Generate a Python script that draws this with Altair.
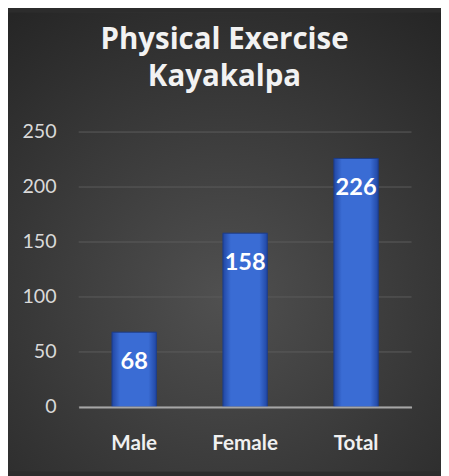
import altair as alt
import pandas as pd

categories = ["Male", "Female", "Total"]
values = [68, 158, 226]
title_lines = ["Physical Exercise", "Kayakalpa"]
y_ticks = [0, 50, 100, 150, 200, 250]

df = pd.DataFrame({"category": categories, "value": values})
grid_df = pd.DataFrame({"tick": y_ticks})

FONT = "Lato"
W, H = 339, 280
PAD = {"left": 72, "top": 122, "right": 30, "bottom": 66}

bg = alt.Chart(alt.Data(values=[{"k": 1}])).mark_rect(
    fill=alt.Gradient(
        gradient="radial",
        x1=0.5, y1=0.62, r1=0.0,
        x2=0.5, y2=0.62, r2=0.8,
        stops=[alt.GradientStop(offset=0, color="#505050"),
               alt.GradientStop(offset=1, color="#242424")],
    )
).encode(
    x=alt.value(-PAD["left"]), x2=alt.value(W + PAD["right"]),
    y=alt.value(-PAD["top"]), y2=alt.value(H + PAD["bottom"]),
)

y_scale = alt.Scale(domain=[0, 250], nice=False)

grid = alt.Chart(grid_df).mark_rule(color="#5c5c5c", strokeWidth=1).encode(
    y=alt.Y("tick:Q", scale=y_scale)
)

x_enc = alt.X("category:N", sort=categories, title=None,
              scale=alt.Scale(paddingInner=0.6, paddingOuter=0.3),
              axis=alt.Axis(labelAngle=0, ticks=False, domain=True,
                            domainColor="#a6a6a6", domainWidth=2,
                            labelFont=FONT, labelFontSize=21, labelFontWeight="bold",
                            labelColor="#f0f0f0", labelPadding=26, grid=False,
                            zindex=1))
y_enc = alt.Y("value:Q", title=None, scale=y_scale,
              axis=alt.Axis(values=y_ticks, ticks=False, domain=False,
                            labelFont=FONT, labelFontSize=20, labelColor="#d9d9d9",
                            labelPadding=23, grid=False, zindex=1))

bars = alt.Chart(df).mark_bar(
    fill=alt.Gradient(
        gradient="linear", x1=0, x2=1, y1=0, y2=0,
        stops=[alt.GradientStop(offset=0, color="#2147a3"),
               alt.GradientStop(offset=0.18, color="#3a6cd4"),
               alt.GradientStop(offset=0.82, color="#3a6cd4"),
               alt.GradientStop(offset=1, color="#2147a3")],
    ),
    stroke="#1c3c8a", strokeWidth=1,
).encode(x=x_enc, y=y_enc)

labels = alt.Chart(df).mark_text(
    font=FONT, fontSize=24, fontWeight="bold", color="white",
    baseline="middle", dy=30,
).encode(x=alt.X("category:N", sort=categories), y=alt.Y("value:Q"),
         text=alt.Text("value:Q"))

chart = alt.layer(bg, grid, bars, labels).properties(
    width=W, height=H,
    title=alt.TitleParams(text=title_lines, font="Open Sans", fontSize=30,
                          fontWeight="bold", color="#f2f2f2", anchor="middle",
                          frame="group", dx=-21, offset=-81, lineHeight=38, zindex=1),
    autosize=alt.AutoSizeParams(type="none"),
    padding=PAD,
    background="#2c2c2c",
).configure_view(stroke=None)

chart.save("out.html", embed_options={"renderer": "svg", "actions": False})
